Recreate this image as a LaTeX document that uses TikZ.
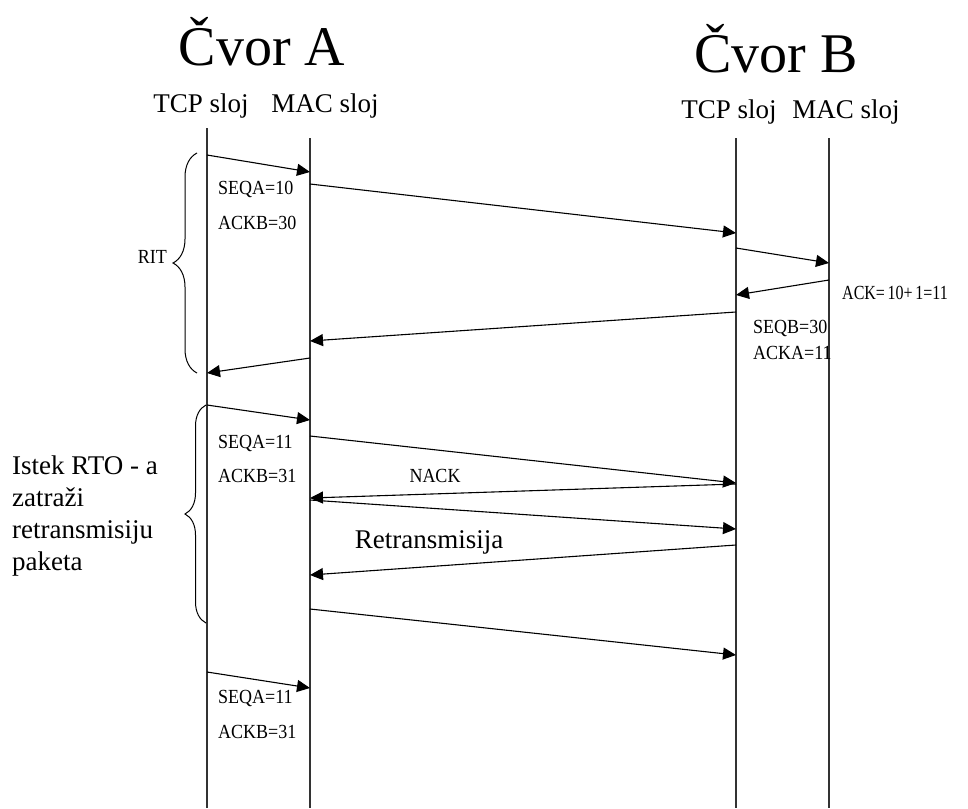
\documentclass[tikz,border=0pt]{standalone}
\usepackage{fontspec}
\setmainfont{Liberation Serif}
\usepackage{graphicx}
\usetikzlibrary{arrows.meta,decorations.pathreplacing}

\newcommand{\narrowTX}[2][0.9]{\scalebox{#1}[1]{#2}}

\begin{document}
\begin{tikzpicture}[x=1pt,y=-1pt,
                    lifeLN/.style={line width=1.5pt,
                                   black!80},
                    msgAR/.style={-{Triangle[length=13pt,width=12pt]},
                                  line width=1.1pt},
                    headLB/.style={inner sep=0pt,
                                   anchor=base,
                                   font=\fontsize{56}{60}\selectfont},
                    layerLB/.style={inner sep=0pt,
                                    anchor=base,
                                    font=\fontsize{27}{30}\selectfont},
                    smallLB/.style={inner sep=0pt,
                                    anchor=west,
                                    font=\fontsize{20}{22}\selectfont},
                    noteLB/.style={inner sep=0pt,
                                   align=left,
                                   font=\fontsize{27}{32}\selectfont},
                    braceND/.style={decorate,
                                    line width=1pt}]
        \useasboundingbox (0,0) rectangle (968,808);

        % naslovi
        \node[headLB](cvorA) at (262,65) {Čvor A};
        \node[headLB](cvorB) at (776,72) {Čvor B};
        \node[layerLB](tcpA) at (201,112) {TCP sloj};
        \node[layerLB](macA) at (325,112) {MAC sloj};
        \node[layerLB](tcpB) at (729,118) {TCP sloj};
        \node[layerLB](macB) at (846,118) {MAC sloj};

        % vremenske linije
        \foreach \n/\x/\t in {aTCP/207/128, aMAC/310/138, bTCP/736/138, bMAC/829/138}
        {
            \coordinate (\n top) at (\x,\t);
            \coordinate (\n bot) at (\x,808);
            \draw[lifeLN] (\n top) -- (\n bot);
        }

        % poruke
        \foreach \i/\xa/\ya/\xb/\yb in {1/207/155/310/172,
                                        2/310/184/736/233,
                                        3/736/248/829/263,
                                        4/829/280/736/295,
                                        5/736/312/310/341,
                                        6/310/358/207/373,
                                        7/207/405/310/420,
                                        8/310/436/736/483,
                                        9/736/484/310/498,
                                        10/310/500/736/529,
                                        11/736/545/310/575,
                                        12/310/609/736/655,
                                        13/207/672/310/688}
        {
            \coordinate (s\i) at (\xa,\ya);
            \coordinate (e\i) at (\xb,\yb);
            \draw[msgAR] (s\i) -- (e\i);
        }

        % oznake
        \node[smallLB](seqA1) at (218,189) {\narrowTX{SEQA=10}};
        \node[smallLB](ackB1) at (218,223) {\narrowTX{ACKB=30}};
        \node[smallLB](ackSum) at (842,293) {\narrowTX[0.8]{ACK=\,10+\,1=11}};
        \node[smallLB](seqB1) at (753,328) {\narrowTX{SEQB=30}};
        \node[smallLB](ackA1) at (753,353) {\narrowTX{ACKA=11}};
        \node[smallLB](seqA2) at (218,443) {\narrowTX{SEQA=11}};
        \node[smallLB](ackB2) at (218,476) {\narrowTX{ACKB=31}};
        \node[smallLB, anchor=center](nack) at (435,476) {\narrowTX{NACK}};
        \node[noteLB](retr) at (429,542) {Retransmisija};
        \node[smallLB](seqA3) at (218,698) {\narrowTX{SEQA=11}};
        \node[smallLB](ackB3) at (218,732) {\narrowTX{ACKB=31}};

        % zagrade
        \coordinate (rttBot) at (197,373);
        \coordinate (rttTop) at (197,153);
        \draw[braceND, decoration={brace, amplitude=24pt}] (rttBot) -- (rttTop);
        \node[smallLB, anchor=east](rtt) at (167,257) {\narrowTX{RIT}};

        \coordinate (rtoBot) at (206,623);
        \coordinate (rtoTop) at (206,405);
        \draw[braceND, decoration={brace, amplitude=21pt}] (rtoBot) -- (rtoTop);
        \node[noteLB, anchor=north west](rto) at (12,456)
            {Istek RTO - a\\zatraži\\retransmisiju\\paketa};
\end{tikzpicture}
\end{document}
